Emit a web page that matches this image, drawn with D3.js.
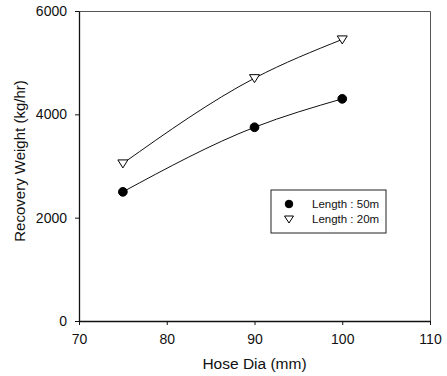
<!DOCTYPE html>
<html>
<head>
<meta charset="utf-8">
<script src="https://cdn.jsdelivr.net/npm/d3@7"></script>
<style>
body { margin: 0; background: #fff; }
text { font-family: "Liberation Sans", Arial, sans-serif; fill: #111; }
</style>
</head>
<body>
<svg width="447" height="376"></svg>
<script>
// data
var hoseDia = [75, 90, 100];
var weight50m = [2500, 3750, 4300];
var weight20m = [3050, 4700, 5450];
var xTicks = [70, 80, 90, 100, 110];
var yTicks = [0, 2000, 4000, 6000];

var margin = {left: 79, top: 11, right: 17, bottom: 55};
var svg = d3.select("svg");
var w = 447 - margin.left - margin.right,
    h = 376 - margin.top - margin.bottom;

var x = d3.scaleLinear().domain([70, 110]).range([0, w]);
var y = d3.scaleLinear().domain([0, 6000]).range([h, 0]);

var g = svg.append("g")
    .attr("transform", "translate(" + margin.left + "," + margin.top + ")");

// frame (top and right)
g.append("path")
    .attr("d", "M0,0.5H" + (w + 0.5) + "V" + h)
    .attr("fill", "none")
    .attr("stroke", "#555")
    .attr("stroke-width", 1);

// axes
var xAxis = g.append("g")
    .attr("transform", "translate(0," + h + ")")
    .call(d3.axisBottom(x).tickValues(xTicks).tickFormat(d3.format("d")).tickSize(4).tickSizeOuter(0));
var yAxis = g.append("g")
    .call(d3.axisLeft(y).tickValues(yTicks).tickFormat(d3.format("d")).tickSize(4).tickSizeOuter(0));

[xAxis, yAxis].forEach(function(a) {
    a.select(".domain").attr("stroke", "#111").attr("stroke-width", 1.3);
    a.selectAll(".tick line").attr("stroke", "#111");
    a.selectAll("text").style("font-size", "14px")
        .style("font-family", "Liberation Sans, Arial, sans-serif")
        .attr("fill", "#111");
});
xAxis.selectAll("text").attr("dy", "1.15em");
yAxis.selectAll("text").attr("x", -12);

// axis titles
svg.append("text")
    .attr("x", margin.left + w / 2)
    .attr("y", 369)
    .attr("text-anchor", "middle")
    .style("font-size", "15.5px")
    .text("Hose Dia (mm)");
svg.append("text")
    .attr("transform", "translate(25,161) rotate(-90)")
    .attr("text-anchor", "middle")
    .style("font-size", "15px")
    .text("Recovery Weight (kg/hr)");

// lines
var series = [
    {name: "Length :  50m", values: weight50m, symbol: "circle"},
    {name: "Length :  20m", values: weight20m, symbol: "tri"}
];

var line = d3.line()
    .x(function(d) { return x(d[0]); })
    .y(function(d) { return y(d[1]); })
    .curve(d3.curveMonotoneX);

var triPath = "M-5,-3.5L5,-3.5L0,4.5Z";

series.forEach(function(s) {
    var pts = hoseDia.map(function(d, i) { return [d, s.values[i]]; });
    g.append("path")
        .attr("d", line(pts))
        .attr("fill", "none")
        .attr("stroke", "#111")
        .attr("stroke-width", 1);
    g.selectAll(null)
        .data(pts)
        .enter()
        .append("path")
        .attr("transform", function(d) { return "translate(" + x(d[0]) + "," + y(d[1]) + ")"; })
        .attr("d", s.symbol === "tri" ? triPath : d3.symbol().type(d3.symbolCircle).size(60)())
        .attr("fill", s.symbol === "tri" ? "#fff" : "#000")
        .attr("stroke", "#000")
        .attr("stroke-width", 1);
});

// legend
var lg = svg.append("g").attr("transform", "translate(271,190)");
lg.append("rect")
    .attr("width", 115).attr("height", 43)
    .attr("fill", "#fff").attr("stroke", "#222").attr("stroke-width", 1);
series.forEach(function(s, i) {
    var yy = 14 + i * 15;
    lg.append("path")
        .attr("transform", "translate(18," + yy + ")")
        .attr("d", s.symbol === "tri" ? "M-4.5,-3L4.5,-3L0,4Z" : d3.symbol().type(d3.symbolCircle).size(45)())
        .attr("fill", s.symbol === "tri" ? "#fff" : "#000")
        .attr("stroke", "#000");
    lg.append("text")
        .attr("x", 41).attr("y", yy + 4)
        .style("font-size", "11.5px")
        .text(s.name);
});
</script>
</body>
</html>
